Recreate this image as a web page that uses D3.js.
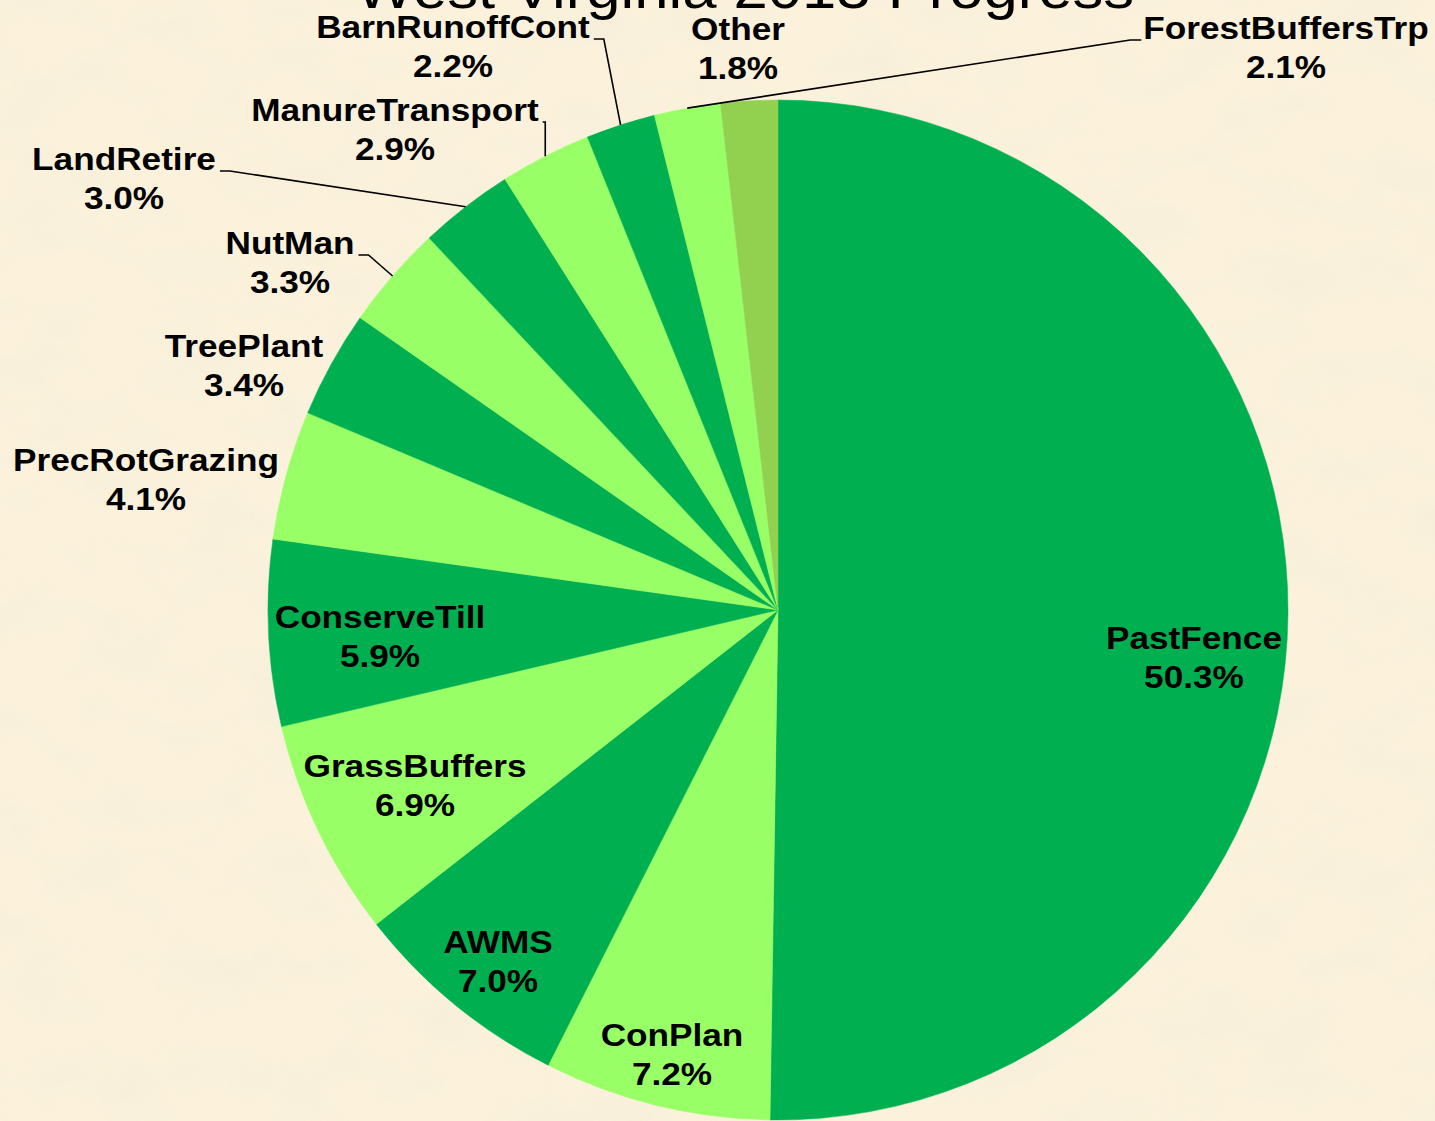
<!DOCTYPE html>
<html>
<head>
<meta charset="utf-8">
<script src="https://cdn.jsdelivr.net/npm/d3@7"></script>
<style>
  html, body { margin: 0; padding: 0; overflow: hidden; }
  text { font-family: "Liberation Sans", Arial, sans-serif; fill: #000; }
</style>
</head>
<body>
<script>
// chart data, clockwise from 12 o'clock
const practices = ['PastFence', 'ConPlan', 'AWMS', 'GrassBuffers', 'ConserveTill', 'PrecRotGrazing',
  'TreePlant', 'NutMan', 'LandRetire', 'ManureTransport', 'BarnRunoffCont', 'ForestBuffersTrp', 'Other']
const shares = [50.3, 7.2, 7.0, 6.9, 5.9, 4.1, 3.4, 3.3, 3.0, 2.9, 2.2, 2.1, 1.8]
const title = 'West Virginia 2013 Progress'

// styling / layout
const W = 1435, H = 1121
const cx = 778, cy = 610, R = 510
const DARK = '#00b050', LIGHT = '#99ff66', OTHER = '#92d050'
const palette = practices.map((p, i) => p === 'Other' ? OTHER : (i % 2 ? LIGHT : DARK))
const STRETCH = 1.1

// label block centres, offset from pie centre (Excel "best fit" placement)
const labelSpots = [
  [416, 47], [-106, 444], [-280, 351], [-363, 175], [-398, 26], [-632, -131],
  [-534, -245], [-488, -348], [-654, -432], [-383, -481], [-325, -564], [508, -563], [-40, -562]
]
const withLeader = ['NutMan', 'LandRetire', 'ManureTransport', 'BarnRunoffCont', 'ForestBuffersTrp']

let slices = practices.map((name, i) => ({ name, value: shares[i] }))

let svg = d3.select('body').append('svg')
  .attr('width', W)
  .attr('height', H)

// parchment background
let defs = svg.append('defs')
let paper = defs.append('filter').attr('id', 'paper')
  .attr('x', 0).attr('y', 0).attr('width', 1).attr('height', 1)
paper.append('feTurbulence')
  .attr('type', 'fractalNoise')
  .attr('baseFrequency', '0.012 0.02')
  .attr('numOctaves', 4)
  .attr('seed', 7)
paper.append('feColorMatrix')
  .attr('type', 'matrix')
  .attr('values', '0 0 0 0 0.91  0 0 0 0 0.85  0 0 0 0 0.70  1.6 0 0 0 -0.55')

svg.append('rect')
  .attr('width', W)
  .attr('height', H)
  .attr('fill', '#fcf2dc')
svg.append('rect')
  .attr('width', W)
  .attr('height', H)
  .attr('filter', 'url(#paper)')
  .attr('opacity', 0.7)

// title (mostly cropped off the top)
svg.append('text')
  .attr('transform', `translate(745,8) scale(${STRETCH},1)`)
  .attr('text-anchor', 'middle')
  .style('font-size', '56px')
  .text(title)

let pie = d3.pie().sort(null).value(d => d.value)
let arc = d3.arc().innerRadius(0).outerRadius(R)
let rim = d3.arc().innerRadius(R).outerRadius(R)
let arcs = pie(slices)

let chart = svg.append('g').attr('transform', `translate(${cx},${cy})`)

chart.selectAll('path.slice')
  .data(arcs)
  .enter()
  .append('path')
  .attr('class', 'slice')
  .attr('d', arc)
  .attr('fill', (d, i) => palette[i])
  .attr('stroke', (d, i) => palette[i])
  .attr('stroke-width', 0.5)

// data labels
let labels = chart.selectAll('g.label')
  .data(arcs)
  .enter()
  .append('g')
  .attr('class', 'label')
  .attr('transform', (d, i) => `translate(${labelSpots[i][0]},${labelSpots[i][1]})`)

let inner = labels.append('g').attr('transform', `scale(${STRETCH},1)`)

inner.append('text')
  .attr('class', 'name')
  .attr('text-anchor', 'middle')
  .attr('y', -8)
  .style('font-size', '32px')
  .style('font-weight', 'bold')
  .text(d => d.data.name)

inner.append('text')
  .attr('text-anchor', 'middle')
  .attr('y', 31)
  .style('font-size', '32px')
  .style('font-weight', 'bold')
  .text(d => d.data.value.toFixed(1) + '%')

// leader lines for the labels pushed away from their slices
let line = d3.line()
labels.each(function(d, i) {
  if (withLeader.indexOf(d.data.name) < 0) return
  let [px, py] = rim.centroid(d)
  let [lx, ly] = labelSpots[i]
  let w = d3.select(this).select('text.name').node().getComputedTextLength() * STRETCH
  let ay = ly - 7
  let pts
  if (lx < px) {
    let edge = lx + w / 2 + 4
    pts = [[edge, ay], [Math.min(edge + 10, px), ay], [px, py]]
  } else {
    let edge = lx - w / 2 - 2
    pts = [[edge, ay], [Math.max(edge - 11, px), ay], [px, py]]
  }
  chart.append('path')
    .attr('d', line(pts))
    .attr('fill', 'none')
    .attr('stroke', '#000')
    .attr('stroke-width', 1.6)
})
</script>
</body>
</html>
